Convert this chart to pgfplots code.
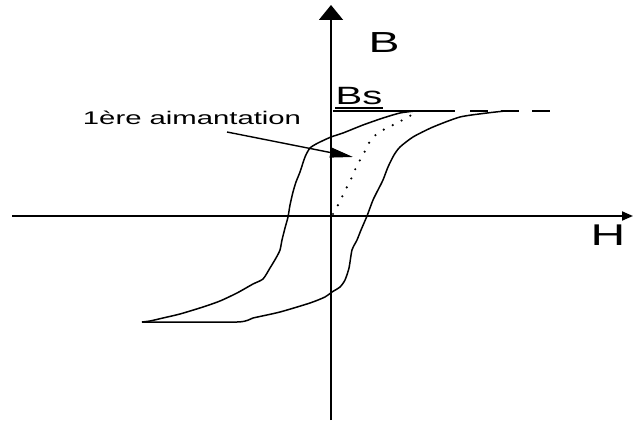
\documentclass[border=0pt]{standalone}
\usepackage{fontspec}
\setmainfont{Liberation Sans}
\newfontfamily\wide[FakeStretch=1.6]{Liberation Sans}
\usepackage{pgfplots}
\pgfplotsset{compat=1.18}
\usetikzlibrary{arrows.meta}

\begin{document}
\begin{tikzpicture}
\begin{axis}[
  scale only axis, width=634pt, height=429pt,
  xmin=-331, xmax=303, ymin=-213, ymax=216,
  hide axis, clip=false,
]
% keep the full drawing area
\path (rel axis cs:0,0) rectangle (rel axis cs:1,1);

% H and B axes
\addplot[black, line width=1.8pt, -{Triangle[length=11pt,width=9pt]}]
  coordinates {(-319,0) (302,0)};
\addplot[black, line width=1.8pt, -{Triangle[length=15pt,width=24pt]}]
  coordinates {(0,-204) (0,211)};

% saturation level Bs
\addplot[black, line width=1.4pt] coordinates {(2,105) (124,105)};
\addplot[black, line width=1.4pt, dash pattern=on 18pt off 13pt]
  coordinates {(139,105) (221,105)};
\addplot[black, line width=1.1pt] coordinates {(4,108) (52,108)};

% descending branch
\addplot[black, line width=1.5pt, smooth, tension=0.4] coordinates {
  (84,105) (69,103) (52,98) (32,91) (12,83) (0,79) (-13,73) (-21,68)
  (-26,59) (-31,44) (-35,34) (-38,24) (-41,11) (-43,-1) (-46,-12)
  (-49,-24) (-51,-34) (-55,-42) (-61,-52) (-68,-63) (-78,-68)
  (-94,-77) (-111,-85) (-128,-91) (-151,-98) (-168,-102) (-181,-105)
  (-189,-106)};

% ascending branch
\addplot[black, line width=1.5pt, smooth, tension=0.4] coordinates {
  (-189,-106) (-94,-106) (-78,-102) (-51,-96) (-21,-87) (-6,-81)
  (1,-76) (9,-71) (14,-64) (18,-52) (21,-34) (26,-24) (30,-14)
  (36,0) (42,16) (48,28) (52,36) (57,49) (63,61) (69,69) (82,79)
  (102,89) (129,99) (156,103) (174,105)};

% first magnetisation curve
\addplot[black, line width=2.4pt, line cap=round, dash pattern=on 0pt off 10pt,
  smooth, tension=0.4] coordinates {
  (2,2) (6,9) (11,19) (17,31) (22,41) (26,51) (31,59) (36,69)
  (41,78) (52,86) (66,93) (77,99) (84,103)};

% pointer to the first magnetisation curve
\addplot[black, line width=1.4pt, -{Triangle[length=23pt,width=10pt]}]
  coordinates {(-104,84) (22,59)};

% labels
\node[anchor=base, inner sep=0pt] at (axis cs:53,163)
  {\wide\fontsize{29}{29}\selectfont B};
\node[anchor=base, inner sep=0pt] at (axis cs:277,-29)
  {\wide\fontsize{30}{30}\selectfont H};
\node[anchor=base, inner sep=0pt] at (axis cs:28,111)
  {\wide\fontsize{25}{25}\selectfont Bs};
\node[anchor=base, inner sep=0pt] at (axis cs:-139,91)
  {\wide\fontsize{18.3}{18.3}\selectfont 1ère aimantation};
\end{axis}
\end{tikzpicture}
\end{document}
